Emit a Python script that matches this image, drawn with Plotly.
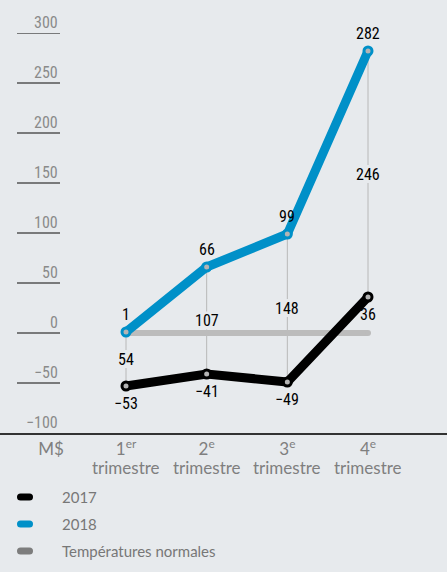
import plotly.graph_objects as go

# data
quarters = [1, 2, 3, 4]
quarter_nums = ["1<sup>er</sup>", "2<sup>e</sup>", "3<sup>e</sup>", "4<sup>e</sup>"]
quarter_word = "trimestre"
y2017 = [-53, -41, -49, 36]
y2018 = [1, 66, 99, 282]
normales = [0, 0, 0, 0]
yticks = [300, 250, 200, 150, 100, 50, 0, -50, -100]

BG = "#e7eaed"
BLUE = "#0090c8"
GRAY_LINE = "#bcbcbc"
W, H = 447, 572
NUM_FONT = "Roboto Condensed, Liberation Sans Narrow, Roboto, sans-serif"
TXT_FONT = "Lato, Open Sans, sans-serif"
GAP = 9  # half height of the hole left in the connectors for the gap labels


def fmt(v):
    return str(v).replace("-", "\u2212")


def py(pix):
    # pixel row -> paper y (plot area runs from 33 to 433)
    return (433 - pix) / 400


fig = go.Figure()

fig.add_trace(go.Scatter(
    x=quarters, y=normales, mode="lines+markers",
    line=dict(color=GRAY_LINE, width=6),
    marker=dict(size=6, color=GRAY_LINE), cliponaxis=False))

fig.add_trace(go.Scatter(
    x=quarters, y=y2017, mode="lines+markers",
    line=dict(color="black", width=9),
    marker=dict(size=8, color="#b4b4b4", line=dict(color="black", width=3)),
    cliponaxis=False))

fig.add_trace(go.Scatter(
    x=quarters, y=y2018, mode="lines+markers",
    line=dict(color=BLUE, width=9),
    marker=dict(size=8, color="#b4b4b4", line=dict(color=BLUE, width=3)),
    cliponaxis=False))

shapes = []
annotations = []

# connectors + value labels
for q, a, b in zip(quarters, y2017, y2018):
    mid = (a + b) / 2
    for y0, y1 in [(a, mid - GAP), (mid + GAP, b)]:
        shapes.append(dict(type="line", x0=q, x1=q, y0=y0, y1=y1, layer="below",
                           line=dict(color="#b8b8b8", width=1)))
    annotations.append(dict(x=q, y=b, text=fmt(b), showarrow=False,
                            yanchor="bottom", yshift=6,
                            font=dict(family=NUM_FONT, size=16, color="black")))
    annotations.append(dict(x=q, y=a, text=fmt(a), showarrow=False,
                            yanchor="top", yshift=-6,
                            font=dict(family=NUM_FONT, size=16, color="black")))
    annotations.append(dict(x=q, y=mid, text=fmt(b - a), showarrow=False,
                            font=dict(family=NUM_FONT, size=16, color="black")))
    annotations.append(dict(x=q, y=py(467), yref="paper", text=quarter_word,
                            showarrow=False, yanchor="middle", height=15, borderpad=0,
                            font=dict(family=TXT_FONT, size=17, color="#7f7f7f")))

# y tick labels with underline
for v in yticks:
    annotations.append(dict(x=60 / W, xref="paper", y=v, yref="y", text=fmt(v),
                            showarrow=False, xanchor="right", yanchor="bottom",
                            yshift=-1,
                            font=dict(family=NUM_FONT, size=16, color="#8a8a8a")))
    if v > -100:
        shapes.append(dict(type="line", xref="paper", x0=17 / W, x1=60 / W,
                           y0=v, y1=v, line=dict(color="#555555", width=1.5)))

# legend (drawn by hand)
legend_items = [("2017", "black"), ("2018", BLUE), ("Températures normales", "#7d7d7d")]
pill = "M -4.5,-3.5 L 4.5,-3.5 Q 8,-3.5 8,0 Q 8,3.5 4.5,3.5 L -4.5,3.5 Q -8,3.5 -8,0 Q -8,-3.5 -4.5,-3.5 Z"
for i, (name, color) in enumerate(legend_items):
    ly = py(497 + 27 * i)
    shapes.append(dict(type="path", xref="paper", yref="paper",
                       xsizemode="pixel", ysizemode="pixel",
                       xanchor=25 / W, yanchor=ly, path=pill,
                       fillcolor=color, line=dict(width=0)))
    annotations.append(dict(x=60 / W, xref="paper", y=ly, yref="paper", text=name,
                            showarrow=False, xanchor="left", yanchor="middle",
                            font=dict(family=TXT_FONT, size=15, color="#777777")))

step = (368 - 126) / 3
fig.update_layout(
    width=W, height=H,
    margin=dict(l=0, r=0, t=33, b=139),
    paper_bgcolor=BG, plot_bgcolor=BG,
    showlegend=False, hovermode=False,
    shapes=shapes, annotations=annotations,
    xaxis=dict(range=[1 - 126 / step, 1 + 321 / step],
               tickvals=[0.07] + quarters, ticktext=["M$"] + quarter_nums,
               showgrid=False, zeroline=False, showline=True,
               linecolor="#333333", linewidth=1.5, ticks="",
               tickfont=dict(family=TXT_FONT, size=17, color="#7f7f7f")),
    yaxis=dict(range=[-100, 300], showgrid=False, zeroline=False,
               showticklabels=False, showline=False),
)

fig.write_html("out.html", config={"displayModeBar": False},
               post_script="document.body.style.margin = '0';")
